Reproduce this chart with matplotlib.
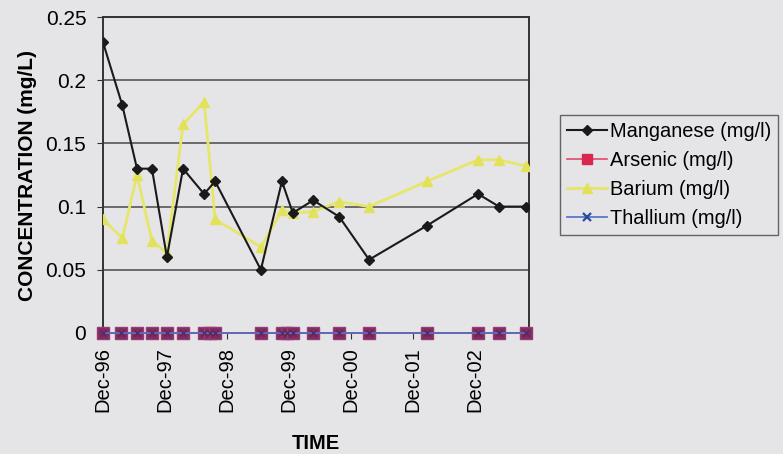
import numpy as np
import matplotlib.pyplot as plt
import matplotlib.dates as mdates
from matplotlib.lines import Line2D
from datetime import date

plt.rcParams['font.family'] = ['Liberation Sans', 'DejaVu Sans']

# sampling dates for manganese / barium
mb_dates = [date(1996, 12, 1), date(1997, 3, 25), date(1997, 6, 19), date(1997, 9, 15),
            date(1997, 12, 12), date(1998, 3, 17), date(1998, 7, 19), date(1998, 9, 22),
            date(1999, 6, 18), date(1999, 10, 20), date(1999, 12, 23), date(2000, 4, 21),
            date(2000, 9, 21), date(2001, 3, 16), date(2002, 2, 20), date(2002, 12, 17),
            date(2003, 4, 20), date(2003, 9, 25)]
manganese = [0.23, 0.18, 0.13, 0.13, 0.06, 0.13, 0.11, 0.12, 0.05, 0.12,
             0.095, 0.105, 0.092, 0.058, 0.085, 0.11, 0.10, 0.10]
barium = [0.09, 0.075, 0.125, 0.073, 0.063, 0.165, 0.183, 0.09, 0.068, 0.097,
          0.095, 0.096, 0.104, 0.10, 0.12, 0.137, 0.137, 0.132]

# arsenic / thallium were sampled a couple of extra times
at_dates = [date(1996, 12, 1), date(1997, 3, 17), date(1997, 6, 19), date(1997, 9, 15),
            date(1997, 12, 12), date(1998, 3, 17), date(1998, 7, 19), date(1998, 8, 23),
            date(1998, 9, 22), date(1999, 6, 18), date(1999, 10, 20), date(1999, 11, 18),
            date(1999, 12, 23), date(2000, 4, 21), date(2000, 9, 21), date(2001, 3, 16),
            date(2002, 2, 20), date(2002, 12, 17), date(2003, 4, 20), date(2003, 9, 25)]
arsenic = [0.0] * len(at_dates)
thallium = [0.0] * len(at_dates)

year_ticks = [date(y, 12, 1) for y in range(1996, 2003)]
y_ticks = [0, 0.05, 0.1, 0.15, 0.2, 0.25]
y_labels = ['0', '0.05', '0.1', '0.15', '0.2', '0.25']

bg = '#e5e5e7'
fig = plt.figure(figsize=(7.83, 4.54), dpi=100, facecolor=bg)
ax = fig.add_axes([103 / 783, 1 - 333 / 454, 426 / 783, 316 / 454], facecolor=bg)

ax.plot(mb_dates, manganese, color='#1a1a1a', lw=1.5, marker='D', ms=5.5, zorder=4)
ax.plot(at_dates, arsenic, color='#c8386a', lw=1.2, marker='s', ms=8,
        mfc='#7e2c62', mec='#9a3a72', zorder=5, clip_on=False)
ax.plot(mb_dates, barium, color='#e6e66a', lw=2, marker='^', ms=7,
        mfc='#e2e25a', mec='#e2e25a', zorder=3)
ax.plot(at_dates, thallium, color='#5a70c0', lw=1.3, marker='x', ms=5, mew=1.0,
        mec='#5a2a5e', zorder=6, clip_on=False)

ax.set_ylim(0, 0.25)
ax.set_yticks(y_ticks)
ax.set_yticklabels(y_labels)
ax.set_xlim(date(1996, 12, 1), date(2003, 10, 13))
ax.set_xticks(year_ticks)
ax.xaxis.set_major_formatter(mdates.DateFormatter('%b-%y'))
ax.tick_params(axis='x', rotation=90, labelsize=14.5, length=4, color='#333333', pad=6)
ax.tick_params(axis='y', labelsize=15, length=4, color='#333333', pad=8)
ax.grid(axis='y', color='#555555', lw=1.2)
ax.set_axisbelow(True)
for s in ax.spines.values():
    s.set_color('#333333')
    s.set_linewidth(1.4)

ax.set_ylabel('CONCENTRATION (mg/L)', fontsize=15, fontweight='bold', labelpad=6)
ax.set_xlabel('TIME', fontsize=14.5, fontweight='bold', labelpad=16)

handles = [
    Line2D([], [], color='#1a1a1a', lw=1.5, marker='D', ms=5),
    Line2D([], [], color='#e04a6e', lw=1.2, marker='s', ms=7, mfc='#d8284e', mec='#d8284e'),
    Line2D([], [], color='#e6e66a', lw=2, marker='^', ms=7, mfc='#e2e25a', mec='#e2e25a'),
    Line2D([], [], color='#5a78c8', lw=1.3, marker='x', ms=6, mew=1.6, mec='#2a4aa0'),
]
names = ['Manganese (mg/l)', 'Arsenic (mg/l)', 'Barium (mg/l)', 'Thallium (mg/l)']
leg = fig.legend(handles, names, loc='upper left', bbox_to_anchor=(560 / 783, 1 - 115 / 454),
                 fontsize=14.4, frameon=True, fancybox=False, handlelength=2.0,
                 handletextpad=0.15, borderpad=0.35, labelspacing=0.5, borderaxespad=0)
leg.get_frame().set_facecolor(bg)
leg.get_frame().set_edgecolor('#444444')
leg.get_frame().set_linewidth(1.0)

fig.savefig('out.png', dpi=100, facecolor=bg)
